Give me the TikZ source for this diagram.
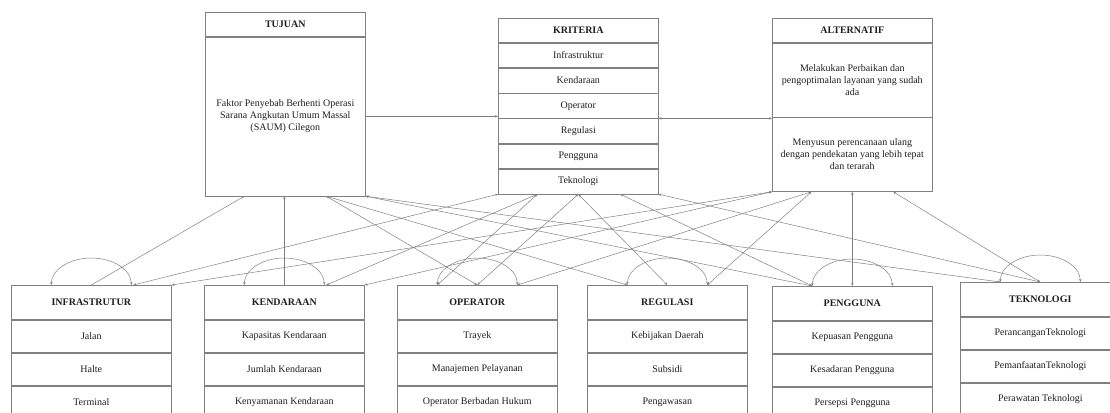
\documentclass[tikz,border=0pt]{standalone}
\usepackage{fontspec}
\setmainfont{Liberation Serif}
\usetikzlibrary{arrows.meta,positioning}
\definecolor{boxGray}{RGB}{128,128,128}
\definecolor{textDark}{RGB}{30,30,30}

\begin{document}
\begin{tikzpicture}[x=1pt,y=1pt,
  hdr/.style={draw=boxGray,line width=.6pt,minimum width=160pt,minimum height=24pt,inner sep=0pt,font=\bfseries,text=textDark},
  cell/.style={draw=boxGray,line width=.6pt,minimum width=160pt,minimum height=24.67pt,inner sep=0pt,text=textDark},
  hdrB/.style={hdr,minimum height=34pt},
  cellB/.style={cell,minimum height=32.5pt},
  link/.style={draw=boxGray,line width=.5pt,{Stealth[length=3pt,width=2.4pt]}-{Stealth[length=3pt,width=2.4pt]}},
  uplink/.style={draw=boxGray,line width=.5pt,-{Stealth[length=3pt,width=2.4pt]}}]
\useasboundingbox (0,0) rectangle (1110,-412);
\clip (0,0) rectangle (1110,-412);

\node[hdr,anchor=north west] (tujH) at (205,-12) {TUJUAN};
\node[cell,below=0pt of tujH,minimum height=159pt,align=center] (tujB) {Faktor Penyebab Berhenti Operasi\\Sarana Angkutan Umum Massal\\(SAUM) Cilegon};

\node[hdr,anchor=north west] (kriH) at (498,-18) {KRITERIA};
\node[cell,below=0pt of kriH] (kr1) {Infrastruktur};
\node[cell,below=0pt of kr1] (kr2) {Kendaraan};
\node[cell,below=0pt of kr2] (kr3) {Operator};
\node[cell,below=0pt of kr3] (kr4) {Regulasi};
\node[cell,below=0pt of kr4] (kr5) {Pengguna};
\node[cell,below=0pt of kr5] (kr6) {Teknologi};

\node[hdr,anchor=north west] (altH) at (772,-18) {ALTERNATIF};
\node[cell,below=0pt of altH,minimum height=74pt,align=center] (alt1) {Melakukan Perbaikan dan\\pengoptimalan layanan yang sudah\\ada};
\node[cell,below=0pt of alt1,minimum height=74pt,align=center] (alt2) {Menyusun perencanaan ulang\\dengan pendekatan yang lebih tepat\\dan terarah};

\node[hdrB,anchor=north west] (infH) at (11,-285) {INFRASTRUTUR};
\node[cellB,below=0pt of infH] (inf1) {Jalan};
\node[cellB,below=0pt of inf1] (inf2) {Halte};
\node[cellB,below=0pt of inf2] (inf3) {Terminal};

\node[hdrB,anchor=north west] (kenH) at (204,-285) {KENDARAAN};
\node[cellB,below=0pt of kenH] (ken1) {Kapasitas Kendaraan};
\node[cellB,below=0pt of ken1] (ken2) {Jumlah Kendaraan};
\node[cellB,below=0pt of ken2] (ken3) {Kenyamanan Kendaraan};

\node[hdrB,anchor=north west] (opH) at (397,-285) {OPERATOR};
\node[cellB,below=0pt of opH] (op1) {Trayek};
\node[cellB,below=0pt of op1] (op2) {Manajemen Pelayanan};
\node[cellB,below=0pt of op2] (op3) {Operator Berbadan Hukum};

\node[hdrB,anchor=north west] (regH) at (587,-285) {REGULASI};
\node[cellB,below=0pt of regH] (reg1) {Kebijakan Daerah};
\node[cellB,below=0pt of reg1] (reg2) {Subsidi};
\node[cellB,below=0pt of reg2] (reg3) {Pengawasan};

\node[hdrB,anchor=north west] (pengH) at (772,-286) {PENGGUNA};
\node[cellB,below=0pt of pengH] (peng1) {Kepuasan Pengguna};
\node[cellB,below=0pt of peng1] (peng2) {Kesadaran Pengguna};
\node[cellB,below=0pt of peng2] (peng3) {Persepsi Pengguna};

\node[hdrB,anchor=north west] (tekH) at (960,-282) {TEKNOLOGI};
\node[cellB,below=0pt of tekH] (tek1) {PerancanganTeknologi};
\node[cellB,below=0pt of tek1] (tek2) {PemanfaatanTeknologi};
\node[cellB,below=0pt of tek2] (tek3) {Perawatan Teknologi};

\draw[uplink] (tujB.east) -- (tujB.east -| kr3.south west);
\draw[link] (kr3.south east) -- (kr3.south east -| alt1.south west);

\foreach \b in {infH,kenH,opH,regH,pengH,tekH}
  \draw[link] ([xshift=-40pt]\b.north) arc[start angle=180,end angle=0,x radius=40pt,y radius=27pt];

\draw[uplink] (infH.north) -- ([xshift=-41pt]tujB.south);
\draw[link] ([xshift=42pt]infH.north) -- (kr6.south west);
\draw[link] (infH.north east) -- (alt2.south west);
\draw[uplink] (kenH.north) -- (kenH.north |- tujB.south);
\draw[link] ([xshift=42pt]kenH.north) -- ([xshift=-41pt]kr6.south);
\draw[link] (kenH.north east) -- (alt2.south west);
\draw[link] (opH.north) -- ([xshift=41pt]tujB.south);
\draw[link] ([xshift=-40pt]opH.north) -- ([xshift=-41pt]kr6.south);
\draw[link] (opH.north) -- (kr6.south);
\draw[link] ([xshift=40pt]opH.north) -- ([xshift=-41pt]alt2.south);
\draw[link] ([xshift=-40pt]regH.north) -- ([xshift=41pt]tujB.south);
\draw[link] (regH.north) -- (kr6.south);
\draw[link] ([xshift=40pt]regH.north) -- ([xshift=-41pt]alt2.south);
\draw[link] ([xshift=-40pt]pengH.north) -- (tujB.south east);
\draw[link] ([xshift=-40pt]pengH.north) -- ([xshift=42pt]kr6.south);
\draw[link] (pengH.north) -- (pengH.north |- alt2.south);
\draw[link] ([xshift=-40pt]tekH.north) -- (tujB.south east);
\draw[link] (tekH.north) -- (kr6.south east);
\draw[link] (tekH.north) -- ([xshift=41pt]alt2.south);
\end{tikzpicture}
\end{document}
